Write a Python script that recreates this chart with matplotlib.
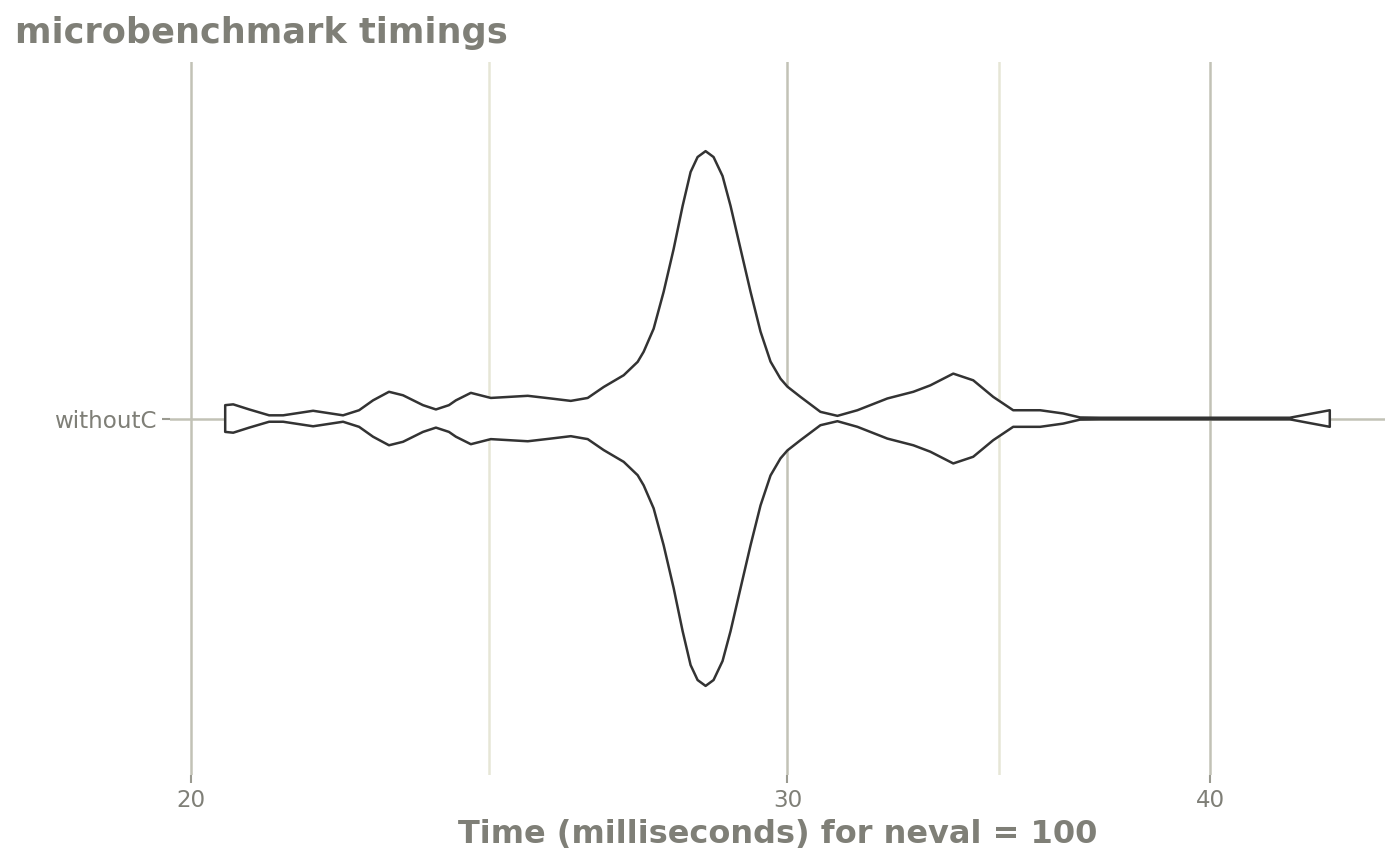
import matplotlib
matplotlib.use("Agg")
import matplotlib.pyplot as plt
import numpy as np
from matplotlib.ticker import FixedLocator, NullFormatter

# violin outline: time (ms) and relative half-width (peak = 1)
times = [20.467, 20.579, 20.804, 21.088, 21.290, 21.728, 22.175, 22.418, 22.632, 22.879,
         23.098, 23.414, 23.621, 23.831, 23.944, 24.189, 24.520, 25.144, 25.540, 25.890,
         26.190, 26.476, 26.839, 27.095, 27.206, 27.391, 27.578, 27.766, 27.936, 28.088,
         28.222, 28.376, 28.530, 28.705, 28.862, 29.059, 29.257, 29.456, 29.657, 29.859,
         30.001, 30.267, 30.681, 31.038, 31.462, 32.110, 32.682, 33.061, 33.582, 34.041,
         34.507, 34.979, 35.626, 36.187, 36.607, 37.108, 42.220, 42.710, 43.383]
halfWidth = [0.050, 0.053, 0.034, 0.012, 0.012, 0.029, 0.012, 0.031, 0.068, 0.100,
             0.087, 0.050, 0.034, 0.050, 0.068, 0.096, 0.077, 0.085, 0.075, 0.066,
             0.077, 0.118, 0.162, 0.212, 0.250, 0.336, 0.474, 0.634, 0.795, 0.922,
             0.978, 1.000, 0.978, 0.907, 0.795, 0.634, 0.474, 0.325, 0.213, 0.149,
             0.119, 0.081, 0.025, 0.010, 0.031, 0.075, 0.100, 0.124, 0.168, 0.143,
             0.081, 0.031, 0.031, 0.019, 0.004, 0.003, 0.003, 0.015, 0.031]
category = "withoutC"
xTicks = [20, 30, 40]
title = "microbenchmark timings"
xLabel = "Time (milliseconds) for neval = 100"

grey = "#7f7f77"
majorGrid = "#c2c2b6"
minorGrid = "#e6e6d6"

fig = plt.figure(figsize=(14, 8.65), dpi=100)
ax = fig.add_axes([0.1214, 0.1040, 0.8679, 0.8243])

t = np.array(times)
w = np.array(halfWidth) * 0.45
xs = np.concatenate([t, t[::-1]])
ys = np.concatenate([1 + w, (1 - w)[::-1]])
ax.fill(xs, ys, facecolor="white", edgecolor="#333333", linewidth=1.8,
        joinstyle="round", zorder=3)

ax.set_xscale("log")
lo, hi = np.log10(t.min()), np.log10(t.max())
pad = 0.05 * (hi - lo)
ax.set_xlim(10 ** (lo - pad), 10 ** (hi + pad))
ax.set_ylim(0.4, 1.6)

#minor breaks sit halfway between majors on the log scale
xMinor = [np.sqrt(a * b) for a, b in zip(xTicks[:-1], xTicks[1:])]
ax.xaxis.set_major_locator(FixedLocator(xTicks))
ax.xaxis.set_minor_locator(FixedLocator(xMinor))
ax.xaxis.set_minor_formatter(NullFormatter())
ax.set_xticklabels([str(v) for v in xTicks])
ax.set_yticks([1])
ax.set_yticklabels([category])

#gridlines: major darker, minor pale
ax.grid(True, which="major", axis="both", color=majorGrid, linewidth=1.8, zorder=0)
ax.grid(True, which="minor", axis="x", color=minorGrid, linewidth=1.8, zorder=0)
ax.set_axisbelow(True)

for s in ax.spines.values():
    s.set_visible(False)
ax.tick_params(axis="both", which="major", colors="#9a9a90", length=6, width=1.5,
               labelcolor=grey, labelsize=16.6, pad=4)
ax.tick_params(axis="x", which="minor", length=0)

ax.set_xlabel(xLabel, fontsize=23, fontweight="bold", color=grey, labelpad=5)
fig.text(15 / 1400, 1 - 33 / 865, title, fontsize=25.3, fontweight="bold",
         color=grey, ha="left", va="center")

fig.savefig("out.png", dpi=100)
